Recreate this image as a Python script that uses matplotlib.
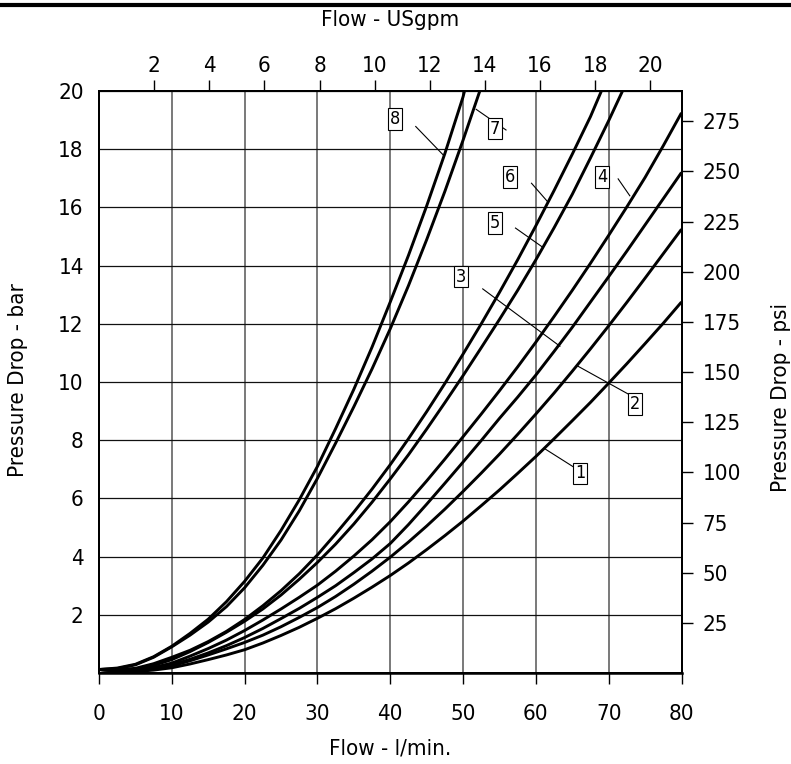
import matplotlib
matplotlib.use("Agg")
import matplotlib.pyplot as plt
from matplotlib.lines import Line2D
from matplotlib import font_manager

fonts = font_manager.fontManager.ttflist
names = {f.name for f in fonts}
STRETCH = 'normal'
if "Liberation Sans Narrow" in names:
    FAM = ["Liberation Sans Narrow", "DejaVu Sans"]
elif any(f.name == "DejaVu Sans" and str(f.stretch) == "condensed" for f in fonts):
    FAM = ["DejaVu Sans"]
    STRETCH = 'condensed'
else:
    FAM = ["Liberation Sans", "DejaVu Sans"]
plt.rcParams['font.family'] = FAM
plt.rcParams['font.stretch'] = STRETCH

# ---------------- data ----------------
# flow in l/min, pressure drop in bar
c8_q = [0, 2.5, 5, 7.5, 10, 12.5, 15, 17.5, 20, 22.5, 25, 27.5, 30, 32.5, 35, 37.5, 40, 42.5, 45, 47.5, 50, 50.2]
c8_p = [0.12, 0.17, 0.30, 0.56, 0.92, 1.36, 1.85, 2.45, 3.15, 3.95, 4.9, 5.95, 7.1, 8.4, 9.75, 11.2, 12.75, 14.35, 16.05, 17.85, 19.8, 20]

c7_q = [0, 2.5, 5, 7.5, 10, 12.5, 15, 17.5, 20, 22.5, 25, 27.5, 30, 32.5, 35, 37.5, 40, 42.5, 45, 47.5, 50, 52.3]
c7_p = [0.12, 0.15, 0.28, 0.54, 0.90, 1.30, 1.75, 2.28, 2.93, 3.70, 4.57, 5.57, 6.69, 7.9, 9.15, 10.45, 11.83, 13.31, 14.89, 16.55, 18.31, 20]

c6_q = [0, 2.5, 5, 7.5, 10, 12.5, 15, 17.5, 20, 22.5, 25, 27.5, 30, 32.5, 35, 37.5, 40, 42.5, 45, 47.5, 50, 52.5, 55, 57.5, 60, 62.5, 65, 67.5, 69]
c6_p = [0.12, 0.12, 0.16, 0.32, 0.54, 0.78, 1.08, 1.43, 1.84, 2.31, 2.83, 3.41, 4.06, 4.78, 5.53, 6.32, 7.16, 8.05, 8.98, 9.95, 10.96, 12.0, 13.08, 14.2, 15.37, 16.58, 17.83, 19.12, 20]

c5_q = [0, 2.5, 5, 7.5, 10, 12.5, 15, 17.5, 20, 22.5, 25, 27.5, 30, 32.5, 35, 37.5, 40, 42.5, 45, 47.5, 50, 52.5, 55, 57.5, 60, 62.5, 65, 67.5, 70, 71.9]
c5_p = [0.12, 0.10, 0.12, 0.26, 0.46, 0.735, 1.05, 1.40, 1.78, 2.20, 2.68, 3.22, 3.80, 4.43, 5.12, 5.87, 6.67, 7.50, 8.38, 9.29, 10.22, 11.18, 12.15, 13.15, 14.2, 15.3, 16.45, 17.7, 18.98, 20]

c4_q = [0, 2.5, 5, 7.5, 10, 12.5, 15, 17.5, 20, 22.5, 25, 27.5, 30, 32.5, 35, 37.5, 40, 42.5, 45, 47.5, 50, 52.5, 55, 57.5, 60, 62.5, 65, 67.5, 70, 72.5, 75, 77.5, 80]
c4_p = [0.12, 0.10, 0.10, 0.19, 0.34, 0.58, 0.84, 1.13, 1.46, 1.82, 2.20, 2.60, 3.02, 3.50, 4.02, 4.58, 5.20, 5.88, 6.60, 7.35, 8.12, 8.90, 9.70, 10.52, 11.37, 12.25, 13.15, 14.08, 15.04, 16.02, 17.03, 18.12, 19.25]

c3_q = [0, 2.5, 5, 7.5, 10, 12.5, 15, 17.5, 20, 22.5, 25, 27.5, 30, 32.5, 35, 37.5, 40, 42.5, 45, 47.5, 50, 52.5, 55, 57.5, 60, 62.5, 65, 67.5, 70, 72.5, 75, 77.5, 80]
c3_p = [0.12, 0.08, 0.07, 0.15, 0.28, 0.47, 0.69, 0.94, 1.22, 1.53, 1.87, 2.22, 2.60, 3.00, 3.45, 3.92, 4.45, 5.10, 5.80, 6.52, 7.25, 7.99, 8.75, 9.48, 10.24, 11.05, 11.88, 12.75, 13.62, 14.50, 15.40, 16.30, 17.20]

c2_q = [0, 2.5, 5, 7.5, 10, 12.5, 15, 17.5, 20, 22.5, 25, 27.5, 30, 32.5, 35, 37.5, 40, 42.5, 45, 47.5, 50, 52.5, 55, 57.5, 60, 62.5, 65, 67.5, 70, 72.5, 75, 77.5, 80]
c2_p = [0.12, 0.07, 0.06, 0.13, 0.24, 0.42, 0.62, 0.83, 1.05, 1.30, 1.59, 1.91, 2.25, 2.63, 3.05, 3.50, 3.98, 4.50, 5.05, 5.63, 6.24, 6.87, 7.52, 8.20, 8.90, 9.62, 10.37, 11.14, 11.93, 12.74, 13.57, 14.41, 15.25]

c1_q = [0, 2.5, 5, 7.5, 10, 12.5, 15, 17.5, 20, 22.5, 25, 27.5, 30, 32.5, 35, 37.5, 40, 42.5, 45, 47.5, 50, 52.5, 55, 57.5, 60, 62.5, 65, 67.5, 70, 72.5, 75, 77.5, 80]
c1_p = [0.12, 0.06, 0.05, 0.10, 0.18, 0.31, 0.46, 0.62, 0.80, 1.03, 1.29, 1.57, 1.88, 2.21, 2.57, 2.95, 3.35, 3.78, 4.24, 4.72, 5.22, 5.75, 6.29, 6.86, 7.44, 8.05, 8.67, 9.30, 9.96, 10.63, 11.32, 12.02, 12.75]

curves = [(c1_q, c1_p), (c2_q, c2_p), (c3_q, c3_p), (c4_q, c4_p),
          (c5_q, c5_p), (c6_q, c6_p), (c7_q, c7_p), (c8_q, c8_p)]

# curve labels: text, box centre, leader start, leader end (data coords)
label_text = ["1", "2", "3", "4", "5", "6", "7", "8"]
label_box = [(66.1, 6.86), (73.6, 9.25), (49.7, 13.62), (69.1, 17.05),
             (54.4, 15.47), (56.5, 17.05), (54.4, 18.71), (40.7, 19.04)]
leader_a = [(61.2, 7.71), (65.8, 10.54), (52.7, 13.2), (71.3, 16.98),
            (57.2, 15.29), (59.4, 16.83), (51.8, 19.37), (43.5, 18.78)]
leader_b = [(65.3, 7.06), (72.8, 9.57), (63.3, 11.23), (72.9, 16.4),
            (61.0, 14.62), (61.6, 16.2), (55.9, 18.66), (47.4, 17.77)]

x_ticks = [0, 10, 20, 30, 40, 50, 60, 70, 80]
y_ticks = [2, 4, 6, 8, 10, 12, 14, 16, 18, 20]
gpm_ticks = [2, 4, 6, 8, 10, 12, 14, 16, 18, 20]
psi_ticks = [25, 50, 75, 100, 125, 150, 175, 200, 225, 250, 275]

LPM_PER_GPM = 3.78541
PSI_PER_BAR = 14.5038

# ---------------- figure ----------------
W, H = 791, 764
fig = plt.figure(figsize=(W / 100, H / 100), dpi=100)
L, R, T, B = 99, 681.5, 91, 673
ax = fig.add_axes([L / W, (H - B) / H, (R - L) / W, (B - T) / H])

ax.set_xlim(0, 80)
ax.set_ylim(0, 20)
ax.set_xticks(x_ticks)
ax.set_yticks(y_ticks)

FS = 16
ax.tick_params(axis='x', direction='out', length=8, width=1.0, pad=14, labelsize=FS)
ax.tick_params(axis='y', length=0, pad=11, labelsize=FS)
ax.grid(axis='x', color='#555555', linewidth=1.1, zorder=1)
ax.grid(axis='y', color='#111111', linewidth=0.9, zorder=1)
for s in ax.spines.values():
    s.set_linewidth(1.3)
ax.spines['bottom'].set_linewidth(1.8)

for q, p in curves:
    ax.plot(q, p, color='black', linewidth=2.1, solid_joinstyle='round',
            solid_capstyle='butt', zorder=3)

for t, bx, a, b in zip(label_text, label_box, leader_a, leader_b):
    ax.plot([a[0], b[0]], [a[1], b[1]], color='black', linewidth=0.8, zorder=4)
    ax.text(bx[0], bx[1], t, ha='center', va='center', fontsize=13, zorder=5,
            bbox=dict(boxstyle='square,pad=0.1', facecolor='white',
                      edgecolor='black', linewidth=0.8))

# secondary axes
axt = ax.twiny()
axt.set_xlim(0, 80 / LPM_PER_GPM)
axt.set_xticks(gpm_ticks)
axt.tick_params(axis='x', direction='out', length=8, width=1.0, pad=3, labelsize=FS)
axr = ax.twinx()
axr.set_ylim(0, 20 * PSI_PER_BAR)
axr.set_yticks(psi_ticks)
axr.tick_params(axis='y', direction='out', length=8, width=1.0, pad=7, labelsize=FS)
for a2 in (axt, axr):
    for s in a2.spines.values():
        s.set_linewidth(1.3)

# axis titles
fig.text(390 / W, 1 - 20 / H, "Flow - USgpm", ha='center', va='center', fontsize=FS)
fig.text(390 / W, 1 - 748 / H, "Flow - l/min.", ha='center', va='center', fontsize=FS)
fig.text(18 / W, 1 - 380 / H, "Pressure Drop - bar", ha='center', va='center',
         rotation=90, fontsize=FS)
fig.text(781 / W, 1 - 398 / H, "Pressure Drop - psi", ha='center', va='center',
         rotation=90, fontsize=FS)

# thick rule at the top of the page
fig.add_artist(Line2D([0, 1], [1 - 5 / H, 1 - 5 / H], transform=fig.transFigure,
                      color='black', linewidth=3.0))

fig.savefig("out.png", dpi=100)
